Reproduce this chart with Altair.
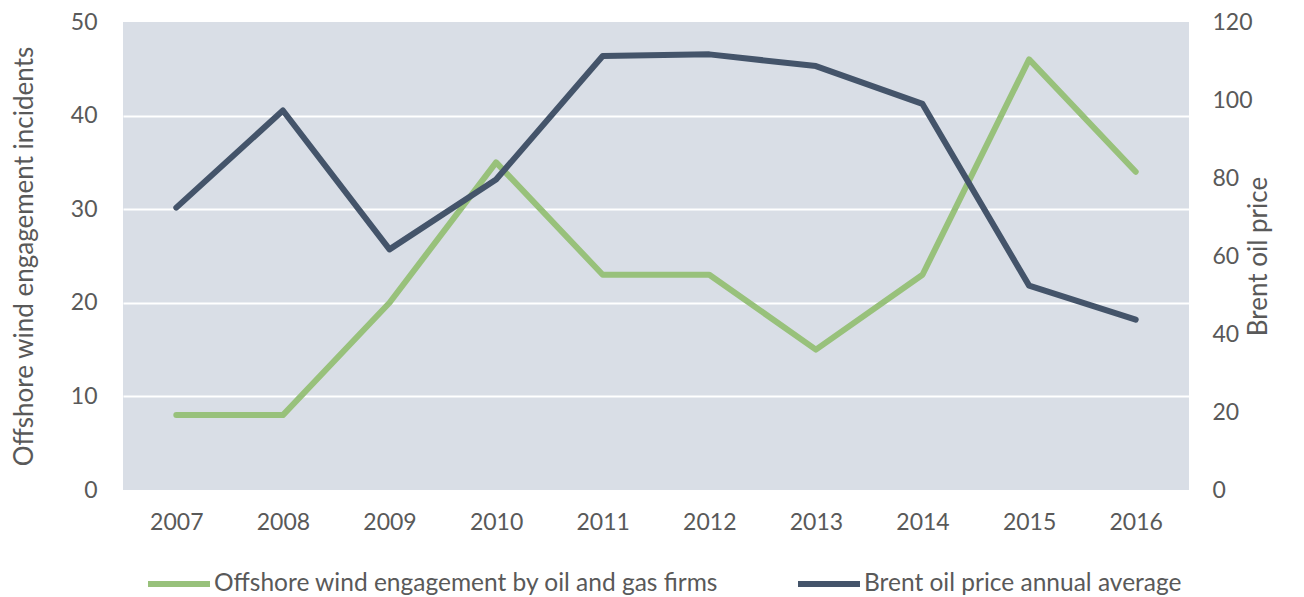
import altair as alt
import pandas as pd

years = [str(y) for y in range(2007, 2017)]
engagement = [8, 8, 20, 35, 23, 23, 15, 23, 46, 34]
brent = [72.4, 97.3, 61.7, 79.6, 111.3, 111.7, 108.7, 99.0, 52.4, 43.7]
series_names = ["Offshore wind engagement by oil and gas firms", "Brent oil price annual average"]
colors = ["#98C17B", "#44546A"]
left_ticks = [0, 10, 20, 30, 40, 50]
right_ticks = [0, 20, 40, 60, 80, 100, 120]

df1 = pd.DataFrame({"year": years, "value": engagement, "series": series_names[0]})
df2 = pd.DataFrame({"year": years, "value": brent, "series": series_names[1]})

FONT = "Lato"
TXT = "#595959"

color = alt.Color(
    "series:N",
    scale=alt.Scale(domain=series_names, range=colors),
    legend=alt.Legend(
        title=None,
        orient="none",
        legendX=22,
        legendY=528,
        direction="horizontal",
        columns=2,
        columnPadding=67,
        symbolType="stroke",
        symbolSize=3844,
        symbolStrokeWidth=6,
        labelFont=FONT,
        labelFontSize=24.5,
        labelColor=TXT,
        labelOffset=1,
        labelLimit=800,
    ),
)

x = alt.X(
    "year:N",
    sort=years,
    scale=alt.Scale(type="point", padding=0.5),
    axis=alt.Axis(title=None, labelAngle=0, ticks=False, domain=False, labelPadding=21, grid=False),
)

left = alt.Chart(df1).mark_line(strokeWidth=6, strokeCap="round", strokeJoin="round").encode(
    x=x,
    y=alt.Y(
        "value:Q",
        scale=alt.Scale(domain=[0, 50], nice=False, zero=True),
        axis=alt.Axis(
            orient="left",
            values=left_ticks,
            title="Offshore wind engagement incidents",
            grid=True,
            gridColor="white",
            gridWidth=2,
            gridOpacity={"condition": {"test": "datum.value === 0 || datum.value === 50", "value": 0}, "value": 1},
            ticks=False,
            domain=False,
            labelPadding=26,
            titleAngle=270,
            titleX=-99,
            titleBaseline="middle",
            titleAlign="center",
        ),
    ),
    color=color,
)

right = alt.Chart(df2).mark_line(strokeWidth=6, strokeCap="round", strokeJoin="round").encode(
    x=x,
    y=alt.Y(
        "value:Q",
        scale=alt.Scale(domain=[0, 120], nice=False, zero=True),
        axis=alt.Axis(
            orient="right",
            values=right_ticks,
            title="Brent oil price",
            grid=False,
            ticks=False,
            domain=False,
            labelPadding=23,
            titleAngle=270,
            titleX=69,
            titleBaseline="middle",
            titleAlign="center",
        ),
    ),
    color=color,
)

chart = (
    alt.layer(left, right)
    .resolve_scale(y="independent")
    .properties(
        width=1066,
        height=468,
        autosize=alt.AutoSizeParams(type="none"),
        padding={"left": 115, "top": 14, "right": 107, "bottom": 107},
    )
    .configure_view(fill="#D9DEE6", stroke=None)
    .configure_axis(
        labelFont=FONT,
        labelFontSize=23,
        labelColor=TXT,
        titleFont=FONT,
        titleFontSize=26,
        titleColor=TXT,
        titleFontWeight="normal",
    )
)

chart.save("out.html", embed_options={"renderer": "svg", "actions": False})
